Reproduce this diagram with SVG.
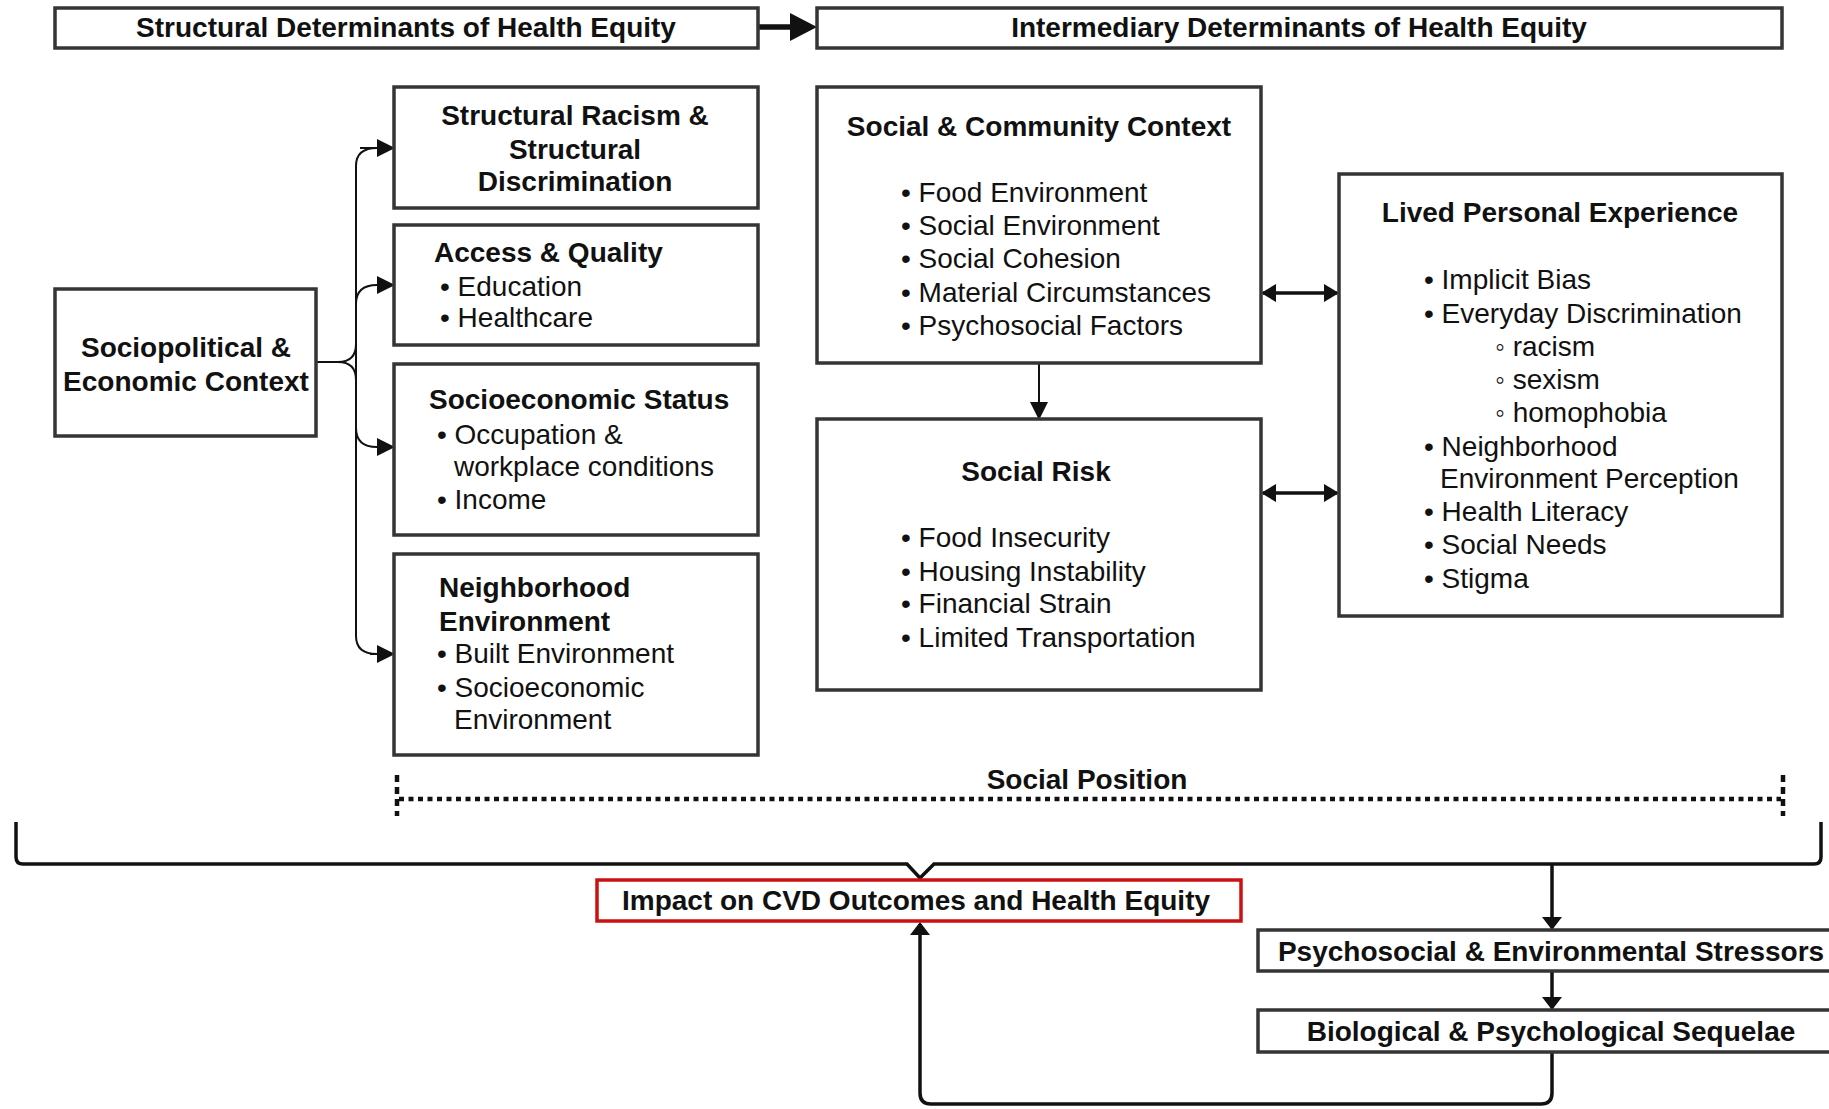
<svg xmlns="http://www.w3.org/2000/svg" width="1829" height="1109" viewBox="0 0 1829 1109">
<defs>
<style>
.box{fill:#fff;stroke:#353535;stroke-width:3.5}
.red{fill:#fff;stroke:#cc1111;stroke-width:3.5}
.b{font-family:'Liberation Sans',Arial,sans-serif;font-weight:bold;font-size:28px;fill:#111}
.r{font-family:'Liberation Sans',Arial,sans-serif;font-size:28px;fill:#111}
.c{text-anchor:middle}
.ln{fill:none;stroke:#111;stroke-width:2}
.thk{fill:none;stroke:#111;stroke-width:3.5}
.dot{fill:none;stroke:#111;stroke-width:4.5;stroke-dasharray:5 4.5}
.vdot{fill:none;stroke:#111;stroke-width:4.5;stroke-dasharray:7 5}
</style>
<marker id="arr" markerUnits="userSpaceOnUse" markerWidth="18" markerHeight="18" refX="17" refY="9" orient="auto"><path d="M0,0 L18,9 L0,18 z" fill="#111"/></marker>
<marker id="arrD" markerUnits="userSpaceOnUse" markerWidth="15" markerHeight="18" refX="13" refY="9" orient="auto-start-reverse"><path d="M0,0 L15,9 L0,18 z" fill="#111"/></marker>
<marker id="arrW" markerUnits="userSpaceOnUse" markerWidth="13" markerHeight="20" refX="11" refY="10" orient="auto"><path d="M0,0 L13,10 L0,20 z" fill="#111"/></marker>
</defs>
<rect width="1829" height="1109" fill="#fff"/>

<g id="connectors">
<path class="ln" d="M377 148 Q356 148 356 166 L356 636 Q356 654 377 654"/>
<path class="ln" d="M360 148 L394 148" marker-end="url(#arr)"/>
<path class="ln" d="M370 654 L394 654" marker-end="url(#arr)"/>
<path class="ln" d="M356 304 Q356 285 377 285 L394 285" marker-end="url(#arr)"/>
<path class="ln" d="M356 428 Q356 447 377 447 L394 447" marker-end="url(#arr)"/>
<path class="ln" d="M316 362 L338 362 Q356 362 356 344"/>
<path class="ln" d="M338 362 Q356 362 356 380"/>
<path fill="none" stroke="#111" stroke-width="5.5" d="M758 27 L793 27"/>
<polygon points="790,13 817,27 790,41" fill="#111"/>
<path class="ln" d="M1039 363 L1039 419" marker-end="url(#arr)"/>
<path class="thk" d="M1263 293 L1337 293" marker-start="url(#arrD)" marker-end="url(#arrD)"/>
<path class="thk" d="M1263 493 L1337 493" marker-start="url(#arrD)" marker-end="url(#arrD)"/>
<path class="dot" d="M399 799 L1781 799"/>
<path class="vdot" d="M397 775 L397 816"/>
<path class="vdot" d="M1783 775 L1783 816"/>
<path class="thk" d="M16 822 L16 857 Q16 864 23 864 L907 864 L920 878 L934 864 L1814 864 Q1821 864 1821 857 L1821 822"/>
<path class="thk" d="M1552 864 L1552 928" marker-end="url(#arrW)"/>
<path class="thk" d="M1552 971 L1552 1008" marker-end="url(#arrW)"/>
<path class="thk" d="M1552 1052 L1552 1093 Q1552 1104 1541 1104 L931 1104 Q920 1104 920 1093 L920 924" marker-end="url(#arrW)"/>
</g>

<g id="structural-header">
<rect class="box" x="55" y="8" width="703" height="40"/>
<text class="b c" x="406" y="37">Structural Determinants of Health Equity</text>
</g>
<g id="intermediary-header">
<rect class="box" x="817" y="8" width="965" height="40"/>
<text class="b c" x="1299" y="37">Intermediary Determinants of Health Equity</text>
</g>

<g id="sociopolitical">
<rect class="box" x="55" y="289" width="261" height="147"/>
<text class="b c" x="186" y="357">Sociopolitical &amp;</text>
<text class="b c" x="186" y="391">Economic Context</text>
</g>

<g id="structural-racism">
<rect class="box" x="394" y="87" width="364" height="121"/>
<text class="b c" x="575" y="125">Structural Racism &amp;</text>
<text class="b c" x="575" y="159">Structural</text>
<text class="b c" x="575" y="191">Discrimination</text>
</g>

<g id="access-quality">
<rect class="box" x="394" y="225" width="364" height="120"/>
<text class="b" x="434" y="262">Access &amp; Quality</text>
<text class="r" x="440" y="296">• Education</text>
<text class="r" x="440" y="327">• Healthcare</text>
</g>

<g id="ses">
<rect class="box" x="394" y="364" width="364" height="171"/>
<text class="b" x="429" y="409">Socioeconomic Status</text>
<text class="r" x="437" y="444">• Occupation &amp;</text>
<text class="r" x="454" y="476">workplace conditions</text>
<text class="r" x="437" y="509">• Income</text>
</g>

<g id="neighborhood">
<rect class="box" x="394" y="554" width="364" height="201"/>
<text class="b" x="439" y="597">Neighborhood</text>
<text class="b" x="439" y="631">Environment</text>
<text class="r" x="437" y="663">• Built Environment</text>
<text class="r" x="437" y="697">• Socioeconomic</text>
<text class="r" x="454" y="729">Environment</text>
</g>

<g id="social-community">
<rect class="box" x="817" y="87" width="444" height="276"/>
<text class="b c" x="1039" y="136">Social &amp; Community Context</text>
<text class="r" x="901" y="202">• Food Environment</text>
<text class="r" x="901" y="235">• Social Environment</text>
<text class="r" x="901" y="268">• Social Cohesion</text>
<text class="r" x="901" y="302">• Material Circumstances</text>
<text class="r" x="901" y="335">• Psychosocial Factors</text>
</g>

<g id="social-risk">
<rect class="box" x="817" y="419" width="444" height="271"/>
<text class="b c" x="1036" y="481">Social Risk</text>
<text class="r" x="901" y="547">• Food Insecurity</text>
<text class="r" x="901" y="581">• Housing Instability</text>
<text class="r" x="901" y="613">• Financial Strain</text>
<text class="r" x="901" y="647">• Limited Transportation</text>
</g>

<g id="lived-experience">
<rect class="box" x="1339" y="174" width="443" height="442"/>
<text class="b c" x="1560" y="222">Lived Personal Experience</text>
<text class="r" x="1424" y="289">• Implicit Bias</text>
<text class="r" x="1424" y="323">• Everyday Discrimination</text>
<text class="r" x="1495" y="356">◦ racism</text>
<text class="r" x="1495" y="389">◦ sexism</text>
<text class="r" x="1495" y="422">◦ homophobia</text>
<text class="r" x="1424" y="456">• Neighborhood</text>
<text class="r" x="1440" y="488">Environment Perception</text>
<text class="r" x="1424" y="521">• Health Literacy</text>
<text class="r" x="1424" y="554">• Social Needs</text>
<text class="r" x="1424" y="588">• Stigma</text>
</g>

<g id="social-position">
<text class="b c" x="1087" y="789">Social Position</text>
</g>

<g id="impact">
<rect class="red" x="597" y="880" width="644" height="41"/>
<text class="b c" x="916" y="910">Impact on CVD Outcomes and Health Equity</text>
</g>

<g id="stressors">
<rect class="box" x="1258" y="930" width="590" height="41"/>
<text class="b c" x="1551" y="961">Psychosocial &amp; Environmental Stressors</text>
</g>

<g id="sequelae">
<rect class="box" x="1258" y="1010" width="590" height="42"/>
<text class="b c" x="1551" y="1041">Biological &amp; Psychological Sequelae</text>
</g>
</svg>
